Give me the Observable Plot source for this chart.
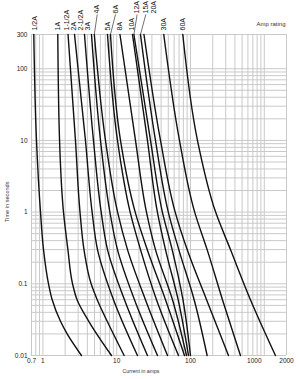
<!DOCTYPE html>
<html><head><meta charset="utf-8">
<script src="https://cdn.jsdelivr.net/npm/d3@7"></script>
<script src="https://cdn.jsdelivr.net/npm/@observablehq/plot@0.6"></script>
<style>html,body{margin:0;padding:0;background:#fff;}svg{display:block;}</style>
</head><body><div id="chart"></div>
<script>
// Amp ratings (curve labels)
const ratings = ["1/2A","1A","1-1/2A","2A","2-1/2A","3A","4A","5A","6A","8A","10A","12A","15A","20A","30A","60A"];
// Each curve: [current in amps, time in seconds] points
const curvePoints = [
  [[0.752,300],[0.818,10],[0.927,1],[1.018,0.3],[1.19,0.1],[1.335,0.06],[1.73,0.03],[2.13,0.02],[3.33,0.01]],
  [[1.59,300],[1.68,10],[1.90,1],[2.18,0.3],[2.52,0.1],[2.9,0.06],[4.18,0.03],[8.5,0.01]],
  [[2.19,300],[2.76,10],[3.18,1],[3.6,0.3],[4.5,0.1],[5.44,0.06],[7.43,0.03],[12.6,0.01]],
  [[2.68,300],[3.77,10],[4.64,1],[5.49,0.3],[9.04,0.06],[19.1,0.01]],
  [[3.66,300],[4.84,10],[6.16,1],[7.50,0.3],[12.74,0.06],[26.1,0.01]],
  [[4.55,300],[6.03,10],[8.08,1],[10.24,0.3],[17.4,0.06],[35.7,0.01]],
  [[4.97,300],[7.04,10],[10.27,1],[14.0,0.3],[24.5,0.06],[48.8,0.01]],
  [[7.50,300],[10.24,10],[15.2,1],[21.0,0.3],[34.6,0.06],[68.7,0.01]],
  [[8.23,300],[11.25,10],[17.8,1],[25.9,0.3],[45.8,0.06],[82.9,0.01]],
  [[11.07,300],[17.96,10],[25.3,1],[33.5,0.3],[57.0,0.06],[88.2,0.01]],
  [[16.36,300],[26.1,10],[35.6,1],[45.8,0.3],[68.0,0.06],[93.9,0.01]],
  [[17.1,300],[28.7,10],[41.6,1],[56.4,0.3],[79.0,0.06],[99.9,0.01]],
  [[21.0,300],[33.5,10],[50.0,1],[69.4,0.3],[112,0.06],[168,0.01]],
  [[23.4,300],[39.2,10],[62.0,1],[90.1,0.3],[165,0.06],[327,0.01]],
  [[43.4,300],[70.9,10],[113.9,1],[168,0.3],[271,0.06],[475,0.01]],
  [[78.6,300],[124.3,10],[219,1],[348,0.3],[649,0.06],[1417,0.01]]
];
// Label placement along the current axis (amps), and whether label is raised with a leader line
const labelAmps = [0.776,1.59,2.13,2.62,3.23,4.06,5.44,7.57,9.62,10.9,16.2,18.9,24.8,31.8,43.4,79.6];
const labelRaised = [false,false,false,false,false,false,true,false,true,false,false,true,true,true,false,false];
const leaderRatings = ["4A","6A","12A","15A"];

const xTickValues = [0.7, 1, 10, 100, 2000];
const xTickShifted = [1000];
const yTickValues = [300, 100, 10, 1, 0.1, 0.01];
const xDomain = [0.7, 2000];
const yDomain = [0.01, 300];

// gridlines at 1..9 x each decade
const decadeGrid = (lo, hi) => {
  const out = [];
  for (let e = -3; e <= 4; e++) for (let m = 1; m <= 9; m++) {
    const v = +(m * Math.pow(10, e)).toPrecision(3);
    if (v >= lo - 1e-9 && v <= hi + 1e-9) out.push(v);
  }
  return out;
};
const xGrid = decadeGrid(0.7, 2000).concat([0.7, 2000]);
const yGrid = decadeGrid(0.01, 100).concat([300]);

const lines = [];
curvePoints.forEach((pts, i) => pts.forEach(([a, s]) => lines.push({rating: ratings[i], amps: a, sec: s})));
const labels = ratings.map((r, i) => ({rating: r, amps: labelAmps[i], raised: labelRaised[i], top: curvePoints[i][0][0]}));
const leaders = labels.filter(d => leaderRatings.includes(d.rating));

const font = "'Liberation Sans', Arial, Helvetica, sans-serif";
const grid = "#c9c9c9";

const chart = Plot.plot({
  width: 299, height: 379,
  marginLeft: 31, marginRight: 13, marginTop: 34, marginBottom: 24,
  style: {fontFamily: font, background: "#fff", color: "#222"},
  x: {type: "log", domain: xDomain, axis: null},
  y: {type: "log", domain: yDomain, axis: null},
  marks: [
    Plot.ruleX(xGrid, {stroke: grid, strokeWidth: 1}),
    Plot.ruleY(yGrid, {stroke: grid, strokeWidth: 1}),
    Plot.line(lines, {x: "amps", y: "sec", z: "rating", curve: "monotone-y", stroke: "#111", strokeWidth: 1.4}),
    Plot.link(leaders, {x1: "top", y1: () => 300, x2: "amps", y2: () => 570, stroke: "#333", strokeWidth: 0.7, clip: false}),
    Plot.text(labels.filter(d => !d.raised), {x: "amps", y: () => 300, text: "rating", rotate: -90, textAnchor: "start", lineAnchor: "middle", dy: -4, fontSize: 7, fill: "#111"}),
    Plot.text(labels.filter(d => d.raised), {x: "amps", y: () => 300, text: "rating", rotate: -90, textAnchor: "start", lineAnchor: "middle", dy: -21, fontSize: 7, fill: "#111"}),
    Plot.text(xTickValues, {x: d => d, frameAnchor: "bottom", lineAnchor: "top", dy: 3, text: d => String(d), fontSize: 6.5, fill: "#222"}),
    Plot.text(xTickShifted, {x: d => d, frameAnchor: "bottom", lineAnchor: "top", dy: 3, dx: -10, text: d => String(d), fontSize: 6.5, fill: "#222"}),
    Plot.text(yTickValues, {y: d => d, frameAnchor: "left", textAnchor: "end", dx: -4, text: d => String(d), fontSize: 6.5, fill: "#222"}),
    Plot.text(["Current in amps"], {frameAnchor: "bottom", dx: -18, dy: 17, fontSize: 5.2, fill: "#333"}),
    Plot.text(["Time in seconds"], {frameAnchor: "left", rotate: -90, dx: -24, dy: 27, fontSize: 5.6, fill: "#333"}),
    Plot.text(["Amp rating"], {frameAnchor: "top-right", textAnchor: "end", dx: -1, dy: -13, fontSize: 6, fill: "#333"})
  ]
});
document.getElementById("chart").appendChild(chart);
</script>
</body></html>
